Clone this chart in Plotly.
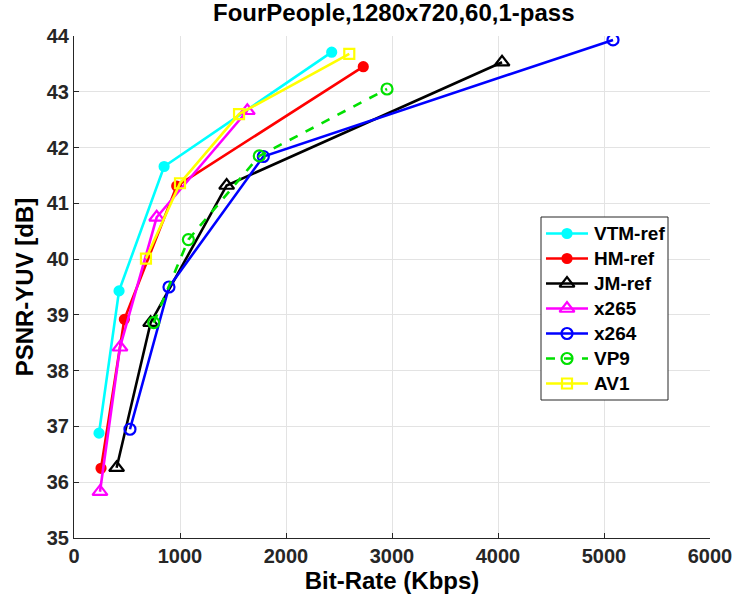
import plotly.graph_objects as go

# Rate-distortion points per codec: bit-rate (Kbps) and PSNR-YUV (dB)
vtm_rate = [236, 425, 850, 2431]
vtm_psnr = [36.88, 39.43, 41.66, 43.71]

hm_rate = [255, 475, 969, 2729]
hm_psnr = [36.25, 38.92, 41.31, 43.45]

jm_rate = [402, 723, 1440, 4038]
jm_psnr = [36.26, 38.86, 41.32, 43.53]

x265_rate = [245, 434, 780, 1635]
x265_psnr = [35.83, 38.42, 40.75, 42.66]

x264_rate = [528, 896, 1786, 5085]
x264_psnr = [36.95, 39.50, 41.84, 43.93]

vp9_rate = [752, 1079, 1748, 2953]
vp9_psnr = [38.86, 40.35, 41.85, 43.05]

av1_rate = [679, 1000, 1557, 2597]
av1_psnr = [40.01, 41.36, 42.60, 43.68]

x_ticks = [0, 1000, 2000, 3000, 4000, 5000, 6000]
y_ticks = [35, 36, 37, 38, 39, 40, 41, 42, 43, 44]

series = [
    ("VTM-ref", vtm_rate, vtm_psnr, "#00FFFF", "circle", "solid", 9),
    ("HM-ref", hm_rate, hm_psnr, "#FF0000", "circle", "solid", 9),
    ("JM-ref", jm_rate, jm_psnr, "#000000", "triangle-up-open", "solid", 13),
    ("x265", x265_rate, x265_psnr, "#FF00FF", "triangle-up-open", "solid", 13),
    ("x264", x264_rate, x264_psnr, "#0000FF", "circle-open", "solid", 11),
    ("VP9", vp9_rate, vp9_psnr, "#00E000", "circle-open", "dash", 11),
    ("AV1", av1_rate, av1_psnr, "#FFFF00", "square-open", "solid", 10),
]

W, H = 736, 608
M_L, M_R, M_T, M_B = 74, 26, 36, 70

fig = go.Figure()
for name, xs, ys, color, symbol, dash, size in series:
    fig.add_trace(go.Scatter(
        x=xs, y=ys, name=name, mode="lines+markers", showlegend=False,
        line=dict(color=color, width=2.6, dash=dash),
        marker=dict(symbol=symbol, size=size, color=color,
                    line=dict(color=color, width=2.2)),
    ))

# Legend drawn on an overlay axis pair measured in screen pixels
box_x0, box_x1, box_y0 = 541, 668, 217
row_h = 25
first_row = 233.5
box_y1 = box_y0 + 2 * (first_row - box_y0) + row_h * (len(series) - 1)
key_x0, key_x1, key_mid, label_x = 546, 588, 567, 592

# white frame behind the legend entries
fig.add_trace(go.Scatter(
    x=[box_x0, box_x1, box_x1, box_x0, box_x0],
    y=[box_y0, box_y0, box_y1, box_y1, box_y0],
    mode="lines", fill="toself", fillcolor="white",
    line=dict(color="#262626", width=1),
    xaxis="x2", yaxis="y2", showlegend=False, hoverinfo="skip",
))

for i, (name, xs, ys, color, symbol, dash, size) in enumerate(series):
    yc = first_row + i * row_h
    fig.add_trace(go.Scatter(
        x=[key_x0, key_x1], y=[yc, yc], mode="lines", xaxis="x2", yaxis="y2",
        showlegend=False, hoverinfo="skip",
        line=dict(color=color, width=2.6, dash=dash),
    ))
    fig.add_trace(go.Scatter(
        x=[key_mid], y=[yc], mode="markers", xaxis="x2", yaxis="y2",
        showlegend=False, hoverinfo="skip",
        marker=dict(symbol=symbol, size=size, color=color,
                    line=dict(color=color, width=2.2)),
    ))
    fig.add_annotation(
        x=label_x, y=yc, xref="x2", yref="y2", text=f"<b>{name}</b>",
        showarrow=False, xanchor="left", yanchor="middle",
        font=dict(size=19, color="#000000"),
    )

font_family = "Liberation Sans, Arial, sans-serif"
text_color = "#262626"

fig.update_layout(
    width=W, height=H,
    margin=dict(l=M_L, r=M_R, t=M_T, b=M_B, autoexpand=False),
    paper_bgcolor="white", plot_bgcolor="white",
    showlegend=False,
    font=dict(family=font_family, color=text_color, size=20),
    title=dict(text="<b>FourPeople,1280x720,60,1-pass</b>",
               x=0.535, xanchor="center", y=0.993, yanchor="top",
               font=dict(size=24, color="#000000")),
    xaxis=dict(
        range=[0, 6000], tickvals=x_ticks,
        ticktext=[f"<b>{v}</b>" for v in x_ticks],
        showgrid=True, gridcolor="#E3E3E3", gridwidth=1,
        showline=True, linecolor=text_color, linewidth=1.2,
        ticks="inside", ticklen=5, tickcolor=text_color,
        zeroline=False, automargin=False,
        title=dict(text="<b>Bit-Rate (Kbps)</b>", font=dict(size=24, color="#000000"), standoff=4),
        tickfont=dict(size=20),
    ),
    yaxis=dict(
        range=[35, 44], tickvals=y_ticks,
        ticktext=[f"<b>{v}</b>" for v in y_ticks],
        showgrid=True, gridcolor="#E3E3E3", gridwidth=1,
        showline=True, linecolor=text_color, linewidth=1.2,
        ticks="inside", ticklen=5, tickcolor=text_color,
        zeroline=False, automargin=False,
        title=dict(text="<b>PSNR-YUV [dB]</b>", font=dict(size=24, color="#000000"), standoff=6),
        tickfont=dict(size=20),
    ),
    xaxis2=dict(overlaying="x", range=[M_L, W - M_R], visible=False, fixedrange=True),
    yaxis2=dict(overlaying="y", range=[H - M_B, M_T], visible=False, fixedrange=True),
)

fig.write_html("out.html")
